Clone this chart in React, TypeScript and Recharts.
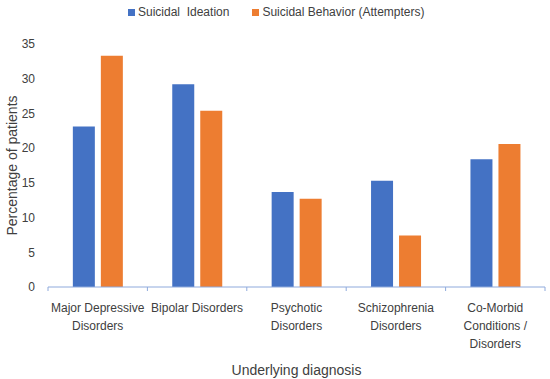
import React from 'react';
import { BarChart, Bar, XAxis, YAxis, Label } from 'recharts';

// categories along the x axis
const categories = [
  'Major Depressive Disorders',
  'Bipolar Disorders',
  'Psychotic Disorders',
  'Schizophrenia Disorders',
  'Co-Morbid Conditions / Disorders',
];

// how each category label wraps under the axis
const tickLabels = [
  ['Major Depressive', 'Disorders'],
  ['Bipolar Disorders'],
  ['Psychotic', 'Disorders'],
  ['Schizophrenia', 'Disorders'],
  ['Co-Morbid', 'Conditions /', 'Disorders'],
];

// percentage of patients
const ideation = [23.1, 29.2, 13.7, 15.3, 18.4];
const attempters = [33.3, 25.4, 12.7, 7.4, 20.6];

const yTicks = [0, 5, 10, 15, 20, 25, 30, 35];

const series = [
  { key: 'ideation', name: 'Suicidal  Ideation', color: '#4472C4' },
  { key: 'attempters', name: 'Suicidal Behavior (Attempters)', color: '#ED7D31' },
];

const data = categories.map((c, i) => ({
  name: c,
  ideation: ideation[i],
  attempters: attempters[i],
}));

const FONT = '"Liberation Sans", Arial, sans-serif';
const TEXT = '#404040';
const AXIS = '#8FAADC';

// category label plus the Excel-style tick marks between categories
function CategoryTick(props: any) {
  const { x, y, index, payload } = props;
  const lines = tickLabels[index] || [];
  const half = payload && payload.offset ? payload.offset : 0;
  return (
    <g>
      <line x1={x - half} x2={x - half} y1={y} y2={y + 4} stroke={AXIS} />
      {index === categories.length - 1 && (
        <line x1={x + half} x2={x + half} y1={y} y2={y + 4} stroke={AXIS} />
      )}
      <text x={x} y={y} textAnchor="middle" fill={TEXT} fontSize={12} fontFamily={FONT}>
        {lines.map((l, i) => (
          <tspan key={i} x={x} dy={i === 0 ? 25 : 18}>{l}</tspan>
        ))}
      </text>
    </g>
  );
}

export default function App() {
  return (
    <div style={{ position: 'absolute', left: 0, top: 0, width: 550, height: 379, background: '#fff', fontFamily: FONT }}>
      {/* legend */}
      <div style={{ position: 'absolute', top: 5, left: 128, display: 'flex', alignItems: 'center', fontSize: 12, color: TEXT }}>
        {series.map((s, i) => (
          <div key={s.key} style={{ display: 'flex', alignItems: 'center', marginRight: i === 0 ? 23 : 0 }}>
            <span style={{ width: 7, height: 7, background: s.color, display: 'inline-block', marginRight: 3 }} />
            <span style={{ whiteSpace: 'pre' }}>{s.name}</span>
          </div>
        ))}
      </div>
      <BarChart
        width={550}
        height={379}
        data={data}
        margin={{ top: 44, right: 5, left: 0, bottom: 0 }}
        barCategoryGap="25%"
        barGap={6}
      >
        <XAxis
          dataKey="name"
          height={92}
          axisLine={{ stroke: AXIS, strokeWidth: 1 }}
          tickLine={false}
          tickSize={0}
          tickMargin={0}
          interval={0}
          tick={<CategoryTick />}
        >
          <Label
            value="Underlying diagnosis"
            position="insideBottom"
            offset={4}
            style={{ fill: TEXT, fontSize: 14, fontFamily: FONT }}
          />
        </XAxis>
        <YAxis
          width={48}
          domain={[0, 35]}
          ticks={yTicks}
          interval={0}
          axisLine={false}
          tickLine={false}
          tickMargin={7}
          tick={{ fill: TEXT, fontSize: 12, fontFamily: FONT }}
        >
          <Label
            value="Percentage of patients"
            angle={-90}
            position="insideLeft"
            offset={12}
            style={{ textAnchor: 'middle', fill: TEXT, fontSize: 14, fontFamily: FONT }}
          />
        </YAxis>
        {series.map((s) => (
          <Bar
            key={s.key}
            dataKey={s.key}
            name={s.name}
            fill={s.color}
            isAnimationActive={false}
          />
        ))}
      </BarChart>
    </div>
  );
}
